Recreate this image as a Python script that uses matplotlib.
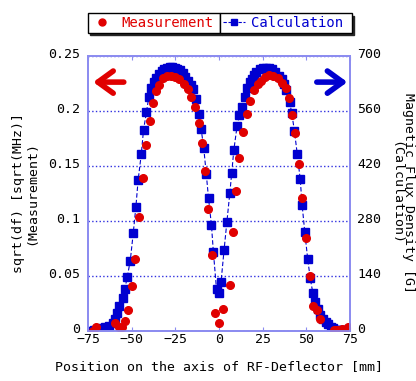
import matplotlib
matplotlib.use('Agg')
import matplotlib.pyplot as plt
import matplotlib.transforms as mtransforms
from matplotlib.lines import Line2D

plt.rcParams['font.family'] = ['DejaVu Sans Mono']

# Calculation: magnetic flux density [G] (right axis)
calc_x = [-74.1, -71.7, -69.4, -67.0, -65.0, -62.7, -60.9, -59.6, -58.3, -57.0,
          -55.2, -53.9, -52.5, -50.8, -49.1, -47.6, -46.3, -44.5, -43.2, -41.5,
          -40.2, -38.8, -37.3, -35.9, -34.4, -32.9, -31.4, -29.9, -28.3, -26.8,
          -25.3, -23.8, -22.2, -20.7, -19.2, -17.6, -16.1, -14.6, -13.1, -11.7,
          -10.2, -8.7, -7.3, -6.0, -4.3, -3.2, -1.4, -0.2, 1.2, 2.9,
          4.5, 6.2, 7.3, 8.5, 10.4, 11.7, 13.3, 14.8, 16.1, 17.5,
          18.8, 19.9, 21.3, 23.2, 25.1, 27.0, 28.9, 30.5, 32.3, 34.2,
          35.8, 37.2, 38.5, 40.4, 41.7, 43.2, 44.8, 46.5, 47.6, 49.1,
          50.8, 52.2, 53.7, 55.1, 56.5, 58.0, 59.5, 61.0, 62.5, 64.0,
          65.5, 67.0, 68.5, 70.0, 71.5, 73.0]
calc_g = [0, 2, 3.5, 6, 9, 12, 20, 30, 44, 64,
          82, 106, 137, 178, 248, 314, 383, 449, 511, 557,
          594, 617, 634, 644, 654, 662, 666, 669, 670, 670,
          669, 667, 663, 656, 647, 636, 626, 616, 591, 552,
          513, 464, 400, 338, 268, 200, 105, 97, 125, 205,
          276, 350, 402, 460, 522, 548, 569, 594, 617, 632,
          641, 651, 659, 665, 668, 669, 669, 666, 659, 649,
          640, 628, 613, 583, 553, 508, 450, 386, 320, 252,
          182, 135, 97, 72, 55, 40, 30, 22, 16, 10,
          6, 3, 2, 1.5, 2, 3]

# Measurement: sqrt(df) [sqrt(MHz)] (left axis)
meas_x = [-72.3, -70.4, -59.8, -57.5, -55.8, -53.8, -52.1, -49.8, -47.8, -45.9,
          -43.6, -41.9, -39.7, -38.0, -35.8, -34.1, -31.8, -29.7, -27.4, -25.1,
          -23.0, -20.3, -17.9, -16.0, -13.9, -11.7, -9.9, -7.8, -6.2, -3.9,
          -2.3, -0.1, 2.2, 6.3, 7.9, 10.0, 11.7, 14.0, 15.9, 18.0,
          19.9, 22.2, 24.1, 26.6, 28.9, 31.2, 33.7, 36.2, 38.1, 40.0,
          41.9, 43.8, 45.9, 47.6, 49.9, 52.2, 53.9, 56.1, 57.8, 65.8,
          67.7, 70.3, 73.6]
meas_y = [0.0, 0.0036, 0.0073, 0.0036, 0.0036, 0.0088, 0.0185, 0.0406, 0.065, 0.103,
          0.1385, 0.169, 0.191, 0.2067, 0.218, 0.2234, 0.2294, 0.2315, 0.2318, 0.2309,
          0.2288, 0.224, 0.2197, 0.2125, 0.2038, 0.1885, 0.171, 0.1455, 0.111, 0.069,
          0.0165, 0.0067, 0.020, 0.0415, 0.09, 0.127, 0.157, 0.181, 0.1967, 0.2088,
          0.2188, 0.224, 0.2273, 0.2309, 0.2325, 0.2318, 0.2294, 0.2249, 0.2203, 0.2113,
          0.1965, 0.1793, 0.152, 0.121, 0.084, 0.0497, 0.0226, 0.0185, 0.011, 0.0005,
          0.0003, 0.002, 0.0035]

x_ticks = [-75, -50, -25, 0, 25, 50, 75]
left_ticks = [0, 0.05, 0.1, 0.15, 0.2, 0.25]
left_labels = ['0', '0.05', '0.1', '0.15', '0.2', '0.25']
right_ticks = [0, 140, 280, 420, 560, 700]

red = '#e00000'
blue = '#0000d0'
spine_c = '#8c8cf0'
grid_c = '#3030e0'

fig = plt.figure(figsize=(4.16, 3.81), dpi=100)
ax = fig.add_axes([0.2115, 0.132, 0.6298, 0.7218])
ax2 = ax.twinx()
ax.set_zorder(2)
ax2.set_zorder(1)
ax.patch.set_visible(False)
ax2.patch.set_visible(True)
ax2.patch.set_facecolor('white')

# calculation on right axis
ax2.plot(calc_x, calc_g, color=blue, ls=(0, (4, 2)), lw=0.8,
         marker='s', ms=5.5, mec=blue, mfc=blue)
ax2.set_ylim(0, 700)
ax2.set_yticks(right_ticks)
ax2.grid(True, color=grid_c, ls=':', lw=1.0)

# measurement on left axis
ax.plot(meas_x, meas_y, ls='none', marker='o', ms=5.5, mec=red, mfc=red)
ax.set_xlim(-75, 75)
ax.set_ylim(0, 0.25)
ax.set_xticks(x_ticks)
ax.set_yticks(left_ticks)
ax.set_yticklabels(left_labels)

for a in (ax, ax2):
    for s in a.spines.values():
        s.set_color(spine_c)
        s.set_linewidth(1.3)

ax.tick_params(axis='x', direction='in', length=3, color=spine_c, top=True,
               labelsize=9.5, pad=2)
ax.tick_params(axis='y', length=0, labelsize=9.5, pad=6)
ax2.tick_params(axis='y', length=0, labelsize=9.5, pad=5)

# y tick labels sit a little above their grid lines
up = mtransforms.ScaledTranslation(0, 0.03, fig.dpi_scale_trans)
for lab in ax.get_yticklabels() + ax2.get_yticklabels():
    lab.set_transform(lab.get_transform() + up)

ax.set_xlabel('Position on the axis of RF-Deflector [mm]', fontsize=9.5, labelpad=10)
ax.set_ylabel('sqrt(df) [sqrt(MHz)]\n(Measurement)', fontsize=9.5, labelpad=7,
              linespacing=1.0)
ax2.set_ylabel('Magnetic Flux Density [G]\n(Calculation)', fontsize=9.5,
               rotation=-90, labelpad=6, linespacing=1.0, va='bottom')

# direction arrows
ax.annotate('', xy=(-72, 0.226), xytext=(-54.5, 0.226),
            arrowprops=dict(arrowstyle='->,head_length=1.1,head_width=0.8',
                            lw=4, color=red, mutation_scale=10,
                            shrinkA=0, shrinkB=0))
ax.annotate('', xy=(73.5, 0.226), xytext=(56, 0.226),
            arrowprops=dict(arrowstyle='->,head_length=1.1,head_width=0.8',
                            lw=4, color=blue, mutation_scale=10,
                            shrinkA=0, shrinkB=0))

# legend boxes above the plot
h1 = Line2D([], [], ls='none', marker='o', ms=5, color=red)
h2 = Line2D([], [], ls=(0, (3, 1.5)), lw=0.8, marker='s', ms=4, color=blue)
shadow = {'color': '0.15', 'alpha': 1, 'ox': 1.5, 'oy': -1.5}
leg1 = fig.legend([h1], ['Measurement'], loc='lower left',
                  bbox_to_anchor=(88 / 416, 1 - 33 / 381, 132 / 416, 22 / 381),
                  mode='expand', fontsize=10, fancybox=False, shadow=shadow,
                  edgecolor='black', borderpad=0.2, handlelength=1.6,
                  handletextpad=0.6, borderaxespad=0)
leg1.get_frame().set_linewidth(1)
for t in leg1.get_texts():
    t.set_color(red)
leg2 = fig.legend([h2], ['Calculation'], loc='lower left',
                  bbox_to_anchor=(220 / 416, 1 - 33 / 381, 132 / 416, 22 / 381),
                  mode='expand', fontsize=10, fancybox=False, shadow=shadow,
                  edgecolor='black', borderpad=0.2, handlelength=1.6,
                  handletextpad=0.4, borderaxespad=0)
leg2.get_frame().set_linewidth(1)
for t in leg2.get_texts():
    t.set_color(blue)

fig.savefig('out.png', dpi=100)
